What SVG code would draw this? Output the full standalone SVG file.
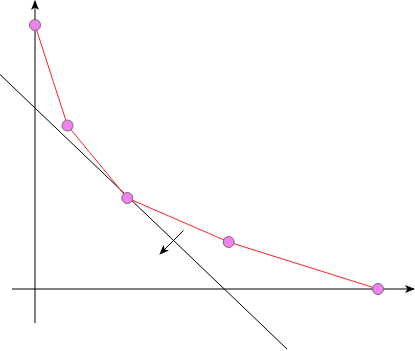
<svg xmlns="http://www.w3.org/2000/svg" width="415" height="351" viewBox="0 0 415 351">
<defs>
<marker id="ah" markerWidth="10" markerHeight="8" refX="9" refY="4" orient="auto" markerUnits="userSpaceOnUse">
<path d="M0,0 L10,4 L0,8 L2.5,4 Z" fill="#000"/>
</marker>
</defs>
<style>
.ax{stroke:#000;stroke-width:1;fill:none}
.pl{stroke:#ff2020;stroke-width:1;fill:none}
.pt{fill:#ee82ee;stroke:#7a6a7a;stroke-width:1}
</style>
<rect width="415" height="351" fill="#fff"/>
<g id="connectors">
<line class="ax" x1="35" y1="323" x2="35" y2="1" marker-end="url(#ah)"/>
<line class="ax" x1="12" y1="289" x2="414" y2="289" marker-end="url(#ah)"/>
<line class="ax" x1="0" y1="74.5" x2="287" y2="349"/>
<line class="ax" x1="183.5" y1="230.5" x2="160" y2="254" marker-end="url(#ah)"/>
<polyline class="pl" points="35,25 67.5,125.5 127.3,198 228.7,242 378,289"/>
</g>
<g id="p1"><circle class="pt" cx="35" cy="25" r="5.5"/></g>
<g id="p2"><circle class="pt" cx="67.5" cy="125.5" r="5.5"/></g>
<g id="p3"><circle class="pt" cx="127.3" cy="198" r="5.5"/></g>
<g id="p4"><circle class="pt" cx="228.7" cy="242" r="5.5"/></g>
<g id="p5"><circle class="pt" cx="378" cy="289" r="5.5"/></g>
</svg>
